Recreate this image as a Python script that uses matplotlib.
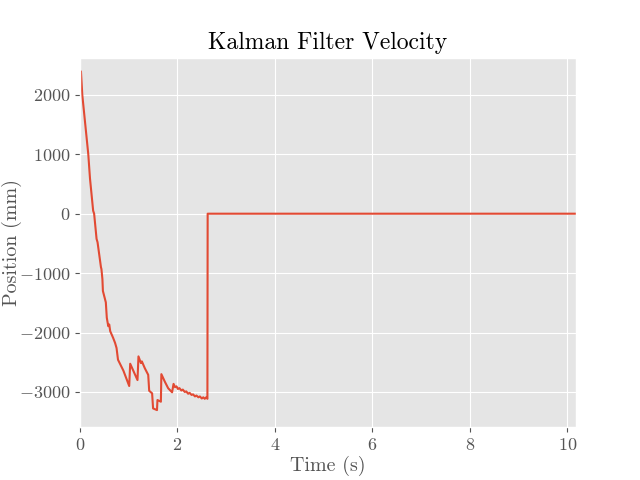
import matplotlib
matplotlib.use("Agg")
import matplotlib.pyplot as plt

plt.style.use("ggplot")
plt.rcParams["font.family"] = "serif"
plt.rcParams["font.serif"] = ["cmr10"]
plt.rcParams["mathtext.fontset"] = "cm"
plt.rcParams["axes.formatter.use_mathtext"] = True

time_s = [0.02, 0.047, 0.17, 0.205, 0.27, 0.29, 0.34, 0.36, 0.43, 0.44, 0.46, 0.47, 0.53,
          0.55, 0.58, 0.60, 0.62, 0.68, 0.72, 0.75, 0.78, 0.89, 1.01, 1.03, 1.18, 1.20,
          1.25, 1.27, 1.33, 1.40, 1.42, 1.48, 1.50, 1.58, 1.59, 1.66, 1.67, 1.74, 1.81,
          1.89, 1.92, 1.95, 1.98, 2.01, 2.04, 2.08, 2.11, 2.15, 2.18, 2.22, 2.25, 2.29,
          2.32, 2.36, 2.39, 2.43, 2.46, 2.50, 2.53, 2.56, 2.59, 2.615, 2.62, 10.18]
velocity = [2390, 2000, 1000, 593, 50, 0, -424, -480, -900, -932, -1102, -1300, -1492,
            -1751, -1893, -1864, -1977, -2090, -2175, -2260, -2458, -2640, -2900, -2525, -2800, -2401,
            -2514, -2486, -2600, -2712, -2980, -3023, -3277, -3305, -3136, -3164, -2700, -2825, -2938,
            -3006, -2864, -2920, -2905, -2950, -2935, -2975, -2960, -3000, -2990, -3030, -3015, -3050,
            -3040, -3075, -3060, -3090, -3075, -3110, -3090, -3115, -3090, -3115, 0, 0]

fig, ax = plt.subplots(figsize=(6.4, 4.8), dpi=100)
ax.plot(time_s, velocity, color="#E24A33", linewidth=1.5)
ax.set_xlim(0, 10.18)
ax.set_ylim(-3593, 2627)
ax.set_title("Kalman Filter Velocity", fontsize=17)
ax.set_xlabel("Time (s)", fontsize=14.4, labelpad=2)
ax.set_ylabel("Position (mm)", fontsize=14.4, labelpad=-2)
ax.tick_params(labelsize=13)
fig.savefig("out.png", dpi=100)
